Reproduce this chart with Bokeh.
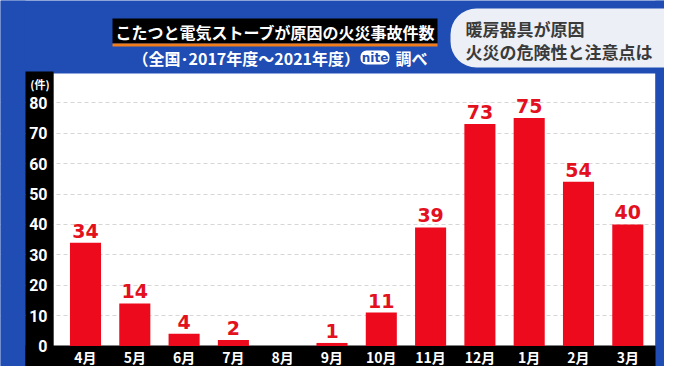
from bokeh.plotting import figure
from bokeh.models import (Range1d, FixedTicker, BoxAnnotation, Label, ColumnDataSource)
from bokeh.core.properties import value
from bokeh.embed import file_html
from bokeh.resources import INLINE

# ---- data ----
months = ["4月", "5月", "6月", "7月", "8月", "9月", "10月", "11月", "12月", "1月", "2月", "3月"]
counts = [34, 14, 4, 2, 0, 1, 11, 39, 73, 75, 54, 40]
y_ticks = [0, 10, 20, 30, 40, 50, 60, 70, 80]
title_text = "こたつと電気ストーブが原因の火災事故件数"
subtitle_text = "（全国･2017年度～2021年度）"
source_text = "調べ"
logo_text = "nite"
side_lines = ["暖房器具が原因", "火災の危険性と注意点は"]
unit_text = "(件)"

JP = "Noto Sans CJK JP"
BLUE = "#1f4db4"
RED = "#ec0a1c"

W, H = 664, 366
# layout geometry (canvas px)
X0_PX, DX_PX = 85.0, 49.3        # centre of first bar, spacing
Y0_PX, DY_PX = 345.5, 3.04       # y=0 position, px per unit
x_lo, x_hi = -0.649, 11.56       # white plot area in data units
y_top = 89.6

idx = list(range(len(months)))
src = ColumnDataSource(dict(
    x=idx, top=counts,
    lbl=[str(c) if c > 0 else "" for c in counts],
))

p = figure(width=W, height=H, output_backend="svg", toolbar_location=None,
           x_range=Range1d(-X0_PX / DX_PX, (W - X0_PX) / DX_PX),
           y_range=Range1d(-(H - Y0_PX) / DY_PX, Y0_PX / DY_PX),
           min_border=0)
p.outline_line_color = None
p.background_fill_color = BLUE
p.border_fill_color = BLUE

def cbox(l, r, t, b, color, level="underlay", radius=0):
    p.add_layout(BoxAnnotation(left=l, right=r, top=t, bottom=b,
                               left_units="canvas", right_units="canvas",
                               top_units="canvas", bottom_units="canvas",
                               fill_color=color, fill_alpha=1, line_color=None,
                               level=level, border_radius=radius))

# white plot area (data units)
p.add_layout(BoxAnnotation(left=x_lo, right=x_hi, bottom=0, top=y_top,
                           fill_color="white", fill_alpha=1, line_color=None, level="image"))

p.xgrid.grid_line_color = None
p.ygrid.ticker = FixedTicker(ticks=y_ticks[1:])
p.ygrid.grid_line_color = "#d6d6d6"
p.ygrid.grid_line_dash = "4 3"

# covers / black bands
cbox(0, 25, 0, H, BLUE)
cbox(655, W, 0, H, BLUE)
cbox(25, 53, 71, 368, "black")
cbox(25, 655, 345, 368, "black")

# title boxes
cbox(112, 437, 18, 43, "black", level="annotation")
cbox(112, 437, 43, 46, "#f07d1a", level="annotation")
cbox(450, 700, 8, 67, "#eceff5", level="annotation", radius=26)
cbox(360, 389, 50, 64, "white", level="annotation", radius=6)

p.vbar(x="x", top="top", width=0.63, source=src, fill_color=RED, line_color=None)
p.text(x="x", y="top", text="lbl", source=src, text_align="center", text_baseline="bottom",
       y_offset=-5, text_color="#e3101e", text_font=value("DejaVu Sans"),
       text_font_style="bold", text_font_size="19px")

# axes drawn at fixed positions inside the frame
p.xaxis.fixed_location = 0
p.yaxis.fixed_location = x_lo
p.xaxis.ticker = FixedTicker(ticks=idx)
p.xaxis.major_label_overrides = {i: m for i, m in zip(idx, months)}
p.yaxis.ticker = FixedTicker(ticks=y_ticks)
for ax in (p.xaxis[0], p.yaxis[0]):
    ax.axis_line_color = None
    ax.major_tick_line_color = None
    ax.minor_tick_line_color = None
    ax.major_tick_out = 0
    ax.major_tick_in = 0
    ax.minor_tick_out = 0
    ax.major_label_text_color = "white"
    ax.major_label_text_font_style = "bold"
p.xaxis.major_label_text_font = JP
p.xaxis.major_label_text_font_size = "14px"
p.xaxis.major_label_standoff = 1
p.yaxis.major_label_text_font = "Roboto"
p.yaxis.major_label_text_font_size = "16px"
p.yaxis.major_label_standoff = 6

def lab(text, x, y, size, color="white", align="left", font=JP):
    p.add_layout(Label(x=x, y=y, x_units="canvas", y_units="canvas", text=text,
                       text_font=font, text_font_size=size, text_font_style="bold",
                       text_color=color, text_align=align, text_baseline="middle"))

lab(title_text, 115, 31, "16px")
lab(subtitle_text, 132, 57, "16px")
lab(logo_text, 374.5, 57, "12px", color=BLUE, align="center", font="DejaVu Sans")
lab(source_text, 395, 57, "16px")
lab(side_lines[0], 465, 28, "17px", color="#3a3a3a")
lab(side_lines[1], 465, 51, "17px", color="#3a3a3a")
lab(unit_text, 39.5, 83.5, "11px", align="center")

open("out.html", "w").write(file_html(p, INLINE))
